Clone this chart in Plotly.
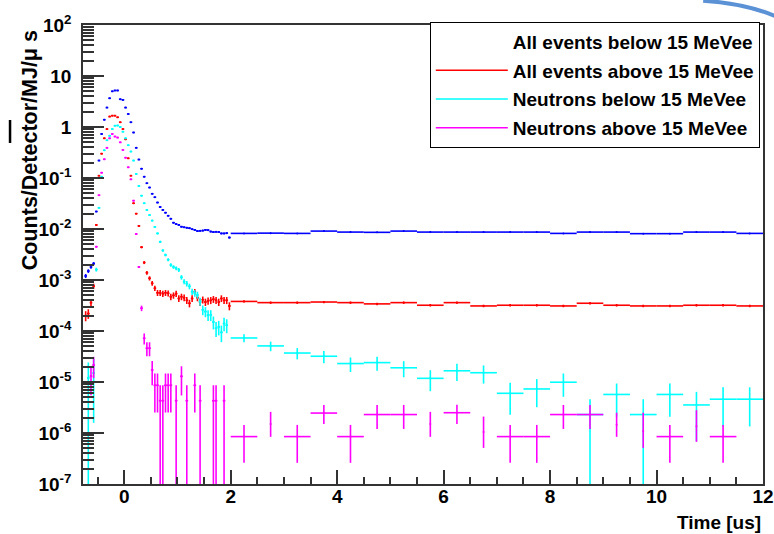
import plotly.graph_objects as go
import math

# ---------------- data ----------------
fine_t = [round(-0.725 + 0.05 * i, 3) for i in range(55)]      # 0.05 us bins
coarse_t = [2.25 + 0.5 * i for i in range(20)]                  # 0.5 us bins

blue_fine = [1.2e-3, 1.5e-3, 1.8e-3, 2.1e-3, 0.022, 0.22, 0.73, 1.39, 2.4, 3.66,
             5.0, 5.2, 5.2, 3.5, 3.4, 2.4, 1.8, 1.24, 0.78, 0.39,
             0.23, 0.152, 0.106, 0.079, 0.065, 0.049, 0.042, 0.033, 0.027, 0.0236,
             0.0209, 0.0182, 0.0159, 0.0133, 0.0125, 0.012, 0.0111, 0.0108, 0.0106, 0.0104,
             0.0099, 0.0096, 0.0091, 0.0092, 0.0093, 0.0096, 0.0095, 0.0089, 0.0087, 0.0088,
             0.0087, 0.0082, 0.0082, 0.0083, 0.0068]
blue_coarse = [0.0082, 0.0083, 0.0082, 0.0091, 0.0087, 0.0086, 0.0091, 0.0087, 0.0087, 0.0087,
               0.0087, 0.0087, 0.0082, 0.0087, 0.0087, 0.0081, 0.0081, 0.0087, 0.0087, 0.0082]

red_fine = [2.0e-4, 2.2e-4, 3.6e-4, 7.6e-4, 0.012, 0.111, 0.3, 0.6, 0.91, 1.6,
            1.67, 1.67, 1.55, 1.24, 0.91, 0.574, 0.243, 0.111, 0.032, 0.02,
            0.0115, 4.4e-3, 2.2e-3, 1.39e-3, 1.08e-3, 8.6e-4, 6.9e-4, 5.6e-4, 5.6e-4, 5.4e-4,
            5.6e-4, 5.5e-4, 4.7e-4, 5.0e-4, 5.4e-4, 4.35e-4, 4.7e-4, 4.5e-4, 4.0e-4, 3.5e-4,
            4.35e-4, 5.9e-4, 4.5e-4, 3.7e-4, 4.1e-4, 3.7e-4, 3.9e-4, 4.0e-4, 4.2e-4, 4.0e-4,
            3.7e-4, 4.35e-4, 4.0e-4, 4.0e-4, 3.1e-4]
red_coarse = [3.8e-4, 3.6e-4, 3.6e-4, 3.7e-4, 3.6e-4, 3.4e-4, 3.6e-4, 3.2e-4, 3.6e-4, 3.1e-4,
              3.2e-4, 3.2e-4, 3.1e-4, 3.5e-4, 3.2e-4, 3.1e-4, 3.1e-4, 3.2e-4, 3.2e-4, 3.1e-4]

cyan_fine = [None, 1.2e-5, None, 1.5e-5, 1.6e-3, 0.026, 0.106, 0.35, 0.55, 0.67,
             0.91, 1.06, 1.07, 1.0, 0.81, 0.6, 0.44, 0.33, 0.22, 0.12,
             0.07, 0.045, 0.032, 0.0236, 0.0188, 0.0146, 0.011, 8.2e-3, 5.6e-3, 3.8e-3,
             3.1e-3, 2.5e-3, 1.97e-3, 1.8e-3, 1.7e-3, 1.58e-3, 1.13e-3, 9.3e-4, 8.5e-4, 7.5e-4,
             5.9e-4, 5.5e-4, 5.1e-4, 3.8e-4, 2.6e-4, 2.4e-4, 2.06e-4, 2.06e-4, 1.5e-4, 1.13e-4,
             1.2e-4, 9.4e-5, 1.4e-4, 1.3e-4, None]
cyan_coarse = [7.3e-5, 5.1e-5, 3.7e-5, 3.2e-5, 2.3e-5, 2.4e-5, 1.9e-5, 1.18e-5, 1.66e-5, 1.52e-5,
               6.0e-6, 7.3e-6, 9.9e-6, 2.3e-6, 5.7e-6, 2.3e-6, 5.7e-6, 3.55e-6, 4.6e-6, 4.6e-6]

mag_fine = [None, None, 1.3e-5, 2.15e-5, 4.5e-3, 0.046, 0.127, 0.233, 0.39, 0.6,
            0.73, 0.65, 0.62, 0.5, 0.355, 0.25, 0.162, 0.094, 0.036, 0.008,
            1.8e-3, 2.8e-4, 7.2e-5, 4.6e-5, 4.6e-5, 1.72e-5, 8.6e-6, 8.6e-6, 4.3e-6, 4.3e-6,
            8.6e-6, 8.6e-6, 8.6e-6, None, 4.3e-6, None, 1.29e-5, None, 4.3e-6, None,
            None, 8.6e-6, None, 4.3e-6, None, None, None, None, 4.3e-6, 4.3e-6,
            None, None, 4.3e-6, None, None]
mag_coarse = [8.5e-7, 1.5e-6, 8.5e-7, 2.46e-6, 8.5e-7, 2.3e-6, 2.3e-6, 1.5e-6, 2.5e-6, 1.05e-6,
              8.5e-7, 8.5e-7, 2.3e-6, 2.3e-6, 1.45e-6, 1.1e-6, 8.5e-7, 1.35e-6, 8.5e-7, None]
mag_coarse_lo = [2.6e-7, 8.4e-7, 2.6e-7, 1.5e-6, 2.6e-7, 1.2e-6, 1.2e-6, 8.4e-7, 1.5e-6, 5.1e-7,
                 2.6e-7, 2.6e-7, 1.2e-6, 1.2e-6, 8.4e-7, 5.1e-7, 2.6e-7, 6.7e-7, 2.6e-7, None]
mag_coarse_hi = [1.44e-6, 2.6e-6, 1.44e-6, 3.55e-6, 1.44e-6, 3.55e-6, 3.55e-6, 2.6e-6, 3.6e-6, 2.1e-6,
                 1.44e-6, 1.44e-6, 3.55e-6, 3.55e-6, 2.5e-6, 2.5e-6, 1.44e-6, 2.8e-6, 1.44e-6, None]
mag_coarse_hbar = [1, 0, 1, 1, 1, 1, 1, 0, 1, 0, 1, 1, 1, 1, 0, 0, 1, 0, 1, 0]

# weight of one count in each binning (sets Poisson error bars)
w_fine = {"blue": 1e-5, "red": 1e-5, "cyan": 1.2e-5, "mag": 4.3e-6}
w_coarse = {"blue": 1e-6, "red": 1e-6, "cyan": 2.3e-6}

series_names = ["All events below 15 MeVee", "All events above 15 MeVee",
                "Neutrons below 15 MeVee", "Neutrons above 15 MeVee"]
y_tickvals = [1e2, 1e1, 1e0, 1e-1, 1e-2, 1e-3, 1e-4, 1e-5, 1e-6, 1e-7]
y_ticktext = ["10<sup>2</sup>", "10", "1", "10<sup>-1</sup>", "10<sup>-2</sup>", "10<sup>-3</sup>",
              "10<sup>-4</sup>", "10<sup>-5</sup>", "10<sup>-6</sup>", "10<sup>-7</sup>"]
x_tickvals = [0, 2, 4, 6, 8, 10, 12]
x_ticktext = ["0", "2", "4", "6", "8", "10", "12"]

colors = {"blue": "#0000ff", "red": "#ff0000", "cyan": "#00ffff", "mag": "#ff00ff"}
FONT = "Liberation Sans"

fig = go.Figure()


def add_series(key, fine, coarse, lo_list=None, hi_list=None, hbar=None):
    xs, ys, ep, em, ex = [], [], [], [], []
    for t, v in zip(fine_t, fine):
        if v is None:
            continue
        e = math.sqrt(v * w_fine[key])
        xs.append(t); ys.append(v); ep.append(e); em.append(min(e, v * 0.99999)); ex.append(0.025)
    for i, (t, v) in enumerate(zip(coarse_t, coarse)):
        if v is None:
            continue
        if lo_list is not None:
            ep.append(hi_list[i] - v); em.append(v - lo_list[i])
            ex.append(0.25 if hbar[i] else 0.0)
        else:
            e = math.sqrt(v * w_coarse[key])
            ep.append(e); em.append(min(e, v * 0.99999)); ex.append(0.25)
        xs.append(t); ys.append(v)
    fig.add_trace(go.Scatter(
        x=xs, y=ys, mode="markers", showlegend=False,
        marker=dict(color=colors[key], size=2),
        error_y=dict(type="data", symmetric=False, array=ep, arrayminus=em,
                     color=colors[key], thickness=1.6, width=0),
        error_x=dict(type="data", array=ex, color=colors[key], thickness=1.6, width=0),
        hoverinfo="skip"))


add_series("blue", blue_fine, blue_coarse)
add_series("red", red_fine, red_coarse)
add_series("cyan", cyan_fine, cyan_coarse)
add_series("mag", mag_fine, mag_coarse, mag_coarse_lo, mag_coarse_hi, mag_coarse_hbar)

legend_colors = ["rgba(255,255,255,0)", colors["red"], colors["cyan"], colors["mag"]]
for i, (name, c) in enumerate(zip(series_names, legend_colors)):
    fig.add_trace(go.Scatter(x=[None], y=[None], mode="lines", name=name,
                             legendgroup=f"g{i}", line=dict(color=c, width=1.5)))

minor_y = [m * 10 ** d for d in range(-7, 2) for m in range(2, 10)]

axis_common = dict(showline=True, linecolor="#333333", linewidth=1.5, mirror=True,
                   ticks="inside", tickcolor="#333333", tickwidth=1.5,
                   showgrid=False, zeroline=False, automargin=False,
                   tickfont=dict(family=FONT, size=19, color="black", weight="bold"))

fig.update_layout(
    width=774, height=534,
    margin=dict(l=83, r=11, t=25, b=50, autoexpand=False),
    paper_bgcolor="white", plot_bgcolor="white",
    xaxis=dict(range=[-0.775, 12], tickmode="array", tickvals=x_tickvals, ticktext=x_ticktext,
               ticklen=14, ticklabelstandoff=-6,
               minor=dict(tickmode="linear", tick0=0, dtick=0.5, ticks="inside", ticklen=7,
                          tickcolor="#333333", tickwidth=1.5, showgrid=False),
               **axis_common),
    yaxis=dict(type="log", range=[-7, 2], tickmode="array", tickvals=y_tickvals,
               ticktext=y_ticktext, ticklen=21, ticklabelstandoff=6,
               minor=dict(tickmode="array", tickvals=minor_y, ticks="inside", ticklen=11,
                          tickcolor="#333333", tickwidth=1.5, showgrid=False),
               **axis_common),
    legend=dict(x=0.51, y=1.007, xanchor="left", yanchor="top",
                bordercolor="black", borderwidth=1, bgcolor="white",
                font=dict(family=FONT, size=19, color="black", weight="bold"),
                itemwidth=72, traceorder="grouped", tracegroupgap=1),
    annotations=[
        dict(text="Time [us]", xref="paper", yref="paper", x=1.0, y=-0.083,
             xanchor="right", yanchor="middle", showarrow=False,
             font=dict(family=FONT, size=19, color="black", weight="bold")),
        dict(text="Counts/Detector/MJ/\u03bc s", xref="paper", yref="paper", x=-0.078, y=0.993,
             xanchor="center", yanchor="top", textangle=-90, showarrow=False,
             font=dict(family=FONT, size=21.5, color="black", weight="bold")),
    ],
    shapes=[
        dict(type="line", xref="paper", yref="paper", x0=-0.1073, x1=-0.1073, y0=0.743, y1=0.793,
             line=dict(color="black", width=2.5)),
        dict(type="path", xref="paper", yref="paper",
             path="M 0.912 1.053 Q 0.975 1.047 1.02 1.018",
             line=dict(color="#3f7fd0", width=4), opacity=0.85),
    ],
)

fig.write_html("out.html")
